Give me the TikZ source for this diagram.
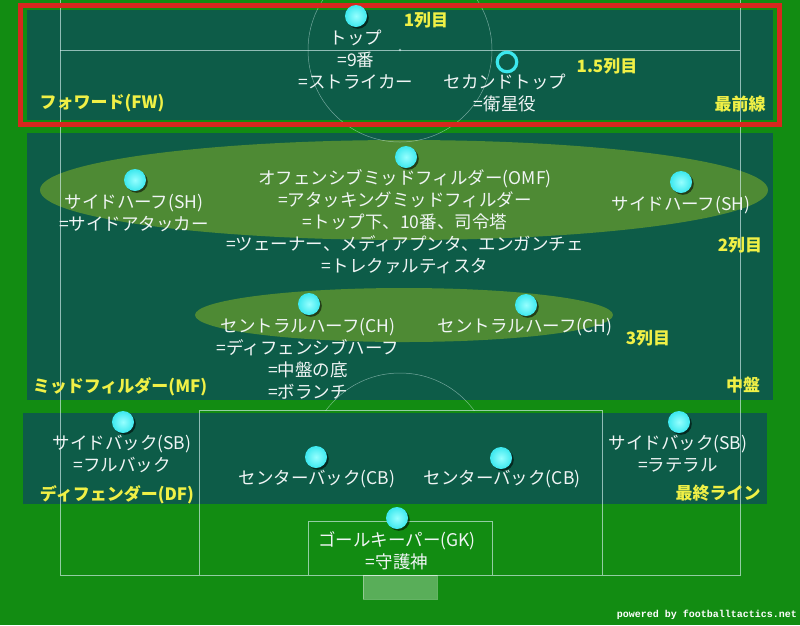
\documentclass[tikz,border=0pt]{standalone}
\usepackage{fontspec}
\newfontfamily\jp{Noto Sans CJK JP}
\newfontfamily\monof{Liberation Mono}
\usetikzlibrary{shadows}
\definecolor{grass}{RGB}{18,140,18}
\definecolor{panel}{RGB}{13,92,72}
\definecolor{blob}{RGB}{78,138,52}
\definecolor{ply}{RGB}{60,232,238}
\definecolor{plyhi}{RGB}{150,255,255}
\definecolor{ylw}{RGB}{240,240,70}
\definecolor{wht}{RGB}{240,245,245}
\definecolor{redb}{RGB}{215,40,30}
\definecolor{linec}{RGB}{215,240,240}
\tikzset{
  fieldline/.style={draw=linec, draw opacity=0.65, line width=0.8pt},
  arcline/.style={draw=linec, draw opacity=0.5, line width=0.5pt},
  bandbox/.style={fill=panel},
  zone/.style={fill=blob},
  player/.style={circle, minimum size=22pt, inner sep=0pt, inner color=plyhi, outer color=ply,
    drop shadow={shadow xshift=1.8pt, shadow yshift=-1.8pt, opacity=0.55, fill=black}},
  ringplayer/.style={circle, minimum size=19.5pt, inner sep=0pt, draw=ply, line width=3.2pt},
  wtxt/.style={text=wht, font=\jp\fontsize{17.5}{22}\selectfont, align=center, inner sep=0pt},
  ylab/.style={text=ylw, font=\jp\bfseries\fontsize{17}{22}\selectfont, inner sep=0pt},
}
\begin{document}
\begin{tikzpicture}[x=1pt,y=-1pt]
\useasboundingbox (0,0) rectangle (800,625);
\begin{scope}
\clip (0,0) rectangle (800,625);
\fill[grass] (0,0) rectangle (800,625);
% bands
\fill[bandbox] (27,10) rectangle (773,120);
\fill[bandbox] (27,133) rectangle (773,400);
\fill[bandbox] (23,413) rectangle (767,504);
% zones
\fill[zone] (404,190) ellipse [x radius=364, y radius=50];
\fill[zone] (404,315) ellipse [x radius=209, y radius=27];
% field lines
\draw[fieldline] (60,0) -- (60,575) -- (740,575) -- (740,0);
\draw[fieldline] (60,50) -- (740,50);
\draw[arcline] (400,50) circle [radius=92];
\fill[linec, opacity=0.6] (400,50) circle [radius=1.3];
\draw[fieldline] (199,575) -- (199,410.5) -- (602,410.5) -- (602,575);
\draw[fieldline] (308,575) -- (308,521) -- (492,521) -- (492,575);
\begin{scope}
\clip (0,0) rectangle (800,410);
\draw[arcline] (400,465) circle [radius=92];
\end{scope}
\fill[white, opacity=0.3] (363,575) rectangle (437,599);
\draw[white, opacity=0.35, line width=0.6pt] (363,575) rectangle (437,599);
\end{scope}
% red frame
\draw[redb, line width=5pt] (20.5,5.5) rectangle (779,124.5);
% players
\node[player] (st) at (356,16) {};
\node[ringplayer] (ss) at (507,62) {};
\node[player] (omf) at (406,157) {};
\node[player] (shl) at (135,180) {};
\node[player] (shr) at (681,182) {};
\node[player] (chl) at (309,304) {};
\node[player] (chr) at (526,305) {};
\node[player] (sbl) at (123,422) {};
\node[player] (cbl) at (316,457) {};
\node[player] (cbr) at (501,458) {};
\node[player] (sbr) at (679,422) {};
\node[player] (gk) at (397,518) {};
% white texts
\node[wtxt] (stt) at (356,60) {トップ\\=9番\\=ストライカー};
\node[wtxt] (sst) at (505,93) {セカンドトップ\\=衛星役};
\node[wtxt] (omft) at (405,221.5) {オフェンシブミッドフィルダー(OMF)\\=アタッキングミッドフィルダー\\=トップ下、10番、司令塔\\=ツェーナー、メディアプンタ、エンガンチェ\\=トレクァルティスタ};
\node[wtxt] (shlt) at (134,213) {サイドハーフ(SH)\\=サイドアタッカー};
\node[wtxt] (shrt) at (681,205) {サイドハーフ(SH)};
\node[wtxt] (chlt) at (308,358.5) {セントラルハーフ(CH)\\=ディフェンシブハーフ\\=中盤の底\\=ボランチ};
\node[wtxt] (chrt) at (525,327) {セントラルハーフ(CH)};
\node[wtxt] (sblt) at (122,453.5) {サイドバック(SB)\\=フルバック};
\node[wtxt] (cblt) at (317,479) {センターバック(CB)};
\node[wtxt] (cbrt) at (502,479) {センターバック(CB)};
\node[wtxt] (sbrt) at (678,453.5) {サイドバック(SB)\\=ラテラル};
\node[wtxt] (gkt) at (397,551) {ゴールキーパー(GK)\\=守護神};
% yellow labels
\node[ylab] (l1) at (426,20) {1列目};
\node[ylab] (l15) at (607,66) {1.5列目};
\node[ylab] (lfw) at (102,103) {フォワード(FW)};
\node[ylab] (lfront) at (740,104) {最前線};
\node[ylab] (l2) at (740,245) {2列目};
\node[ylab] (l3) at (648,338) {3列目};
\node[ylab] (lmf) at (120,387) {ミッドフィルダー(MF)};
\node[ylab] (lmid) at (743,385) {中盤};
\node[ylab] (ldf) at (117,495) {ディフェンダー(DF)};
\node[ylab] (lline) at (718,493) {最終ライン};
% credit
\node[text=white, font=\monof\bfseries\fontsize{10}{12}\selectfont, inner sep=0pt] (pw) at (707,615) {powered by footballtactics.net};
\end{tikzpicture}
\end{document}
